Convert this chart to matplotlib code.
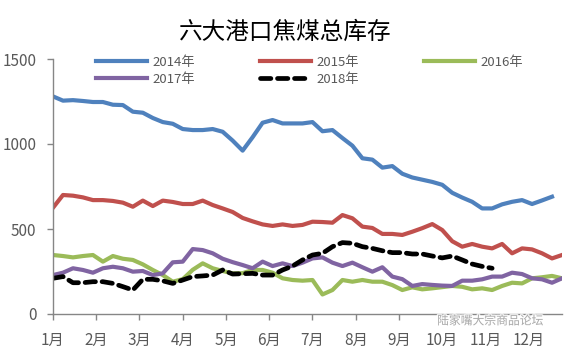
import matplotlib
matplotlib.use("Agg")
import matplotlib.pyplot as plt
import matplotlib.patheffects as pe

plt.rcParams['font.family'] = ['Noto Sans CJK SC', 'DejaVu Sans']

months = ['1月', '2月', '3月', '4月', '5月', '6月', '7月', '8月', '9月', '10月', '11月', '12月']

y2014 = [1280, 1255, 1258, 1253, 1247, 1247, 1231, 1229, 1190, 1184, 1153, 1129, 1119, 1088,
         1082, 1082, 1088, 1072, 1020, 961, 1040, 1125, 1141, 1121, 1121, 1121, 1129, 1075,
         1082, 1035, 990, 916, 908, 861, 870, 825, 803, 790, 777, 760, 713, 685, 660, 621,
         621, 645, 660, 670, 647, 668, 690]
y2015 = [625, 700, 696, 686, 670, 670, 665, 655, 631, 667, 635, 667, 659, 647, 647, 667, 641,
         621, 600, 565, 545, 527, 518, 527, 518, 524, 543, 541, 537, 582, 563, 514, 506, 471,
         471, 465, 484, 505, 529, 494, 428, 396, 412, 396, 386, 412, 357, 386, 380, 357, 327, 347]
y2016 = [347, 341, 333, 341, 347, 308, 341, 325, 318, 292, 259, 229, 190, 205, 260, 298, 269,
         253, 239, 240, 259, 259, 243, 210, 200, 196, 200, 115, 141, 200, 190, 200, 190, 190,
         170, 141, 157, 145, 151, 158, 165, 160, 145, 151, 141, 165, 184, 180, 210, 216, 224, 210]
y2017 = [229, 243, 269, 259, 243, 269, 278, 269, 249, 253, 229, 239, 304, 308, 382, 376, 357,
         325, 305, 288, 269, 308, 282, 298, 282, 302, 327, 333, 302, 282, 302, 275, 249, 275,
         220, 205, 165, 176, 171, 167, 165, 196, 196, 204, 220, 220, 243, 235, 210, 204, 184, 210]
y2018 = [210, 220, 184, 184, 190, 190, 180, 161, 141, 204, 204, 195, 180, 200, 220, 224, 229,
         259, 235, 237, 239, 229, 229, 259, 282, 318, 347, 357, 396, 420, 416, 396, 386, 372,
         361, 361, 353, 353, 341, 330, 341, 318, 294, 280, 269]

series = [
    ('2014年', y2014, '#4F81BD', '-'),
    ('2015年', y2015, '#C0504D', '-'),
    ('2016年', y2016, '#9BBB59', '-'),
    ('2017年', y2017, '#8064A2', '-'),
    ('2018年', y2018, '#000000', '--'),
]

fig = plt.figure(figsize=(5.76, 3.51), dpi=100)
ax = fig.add_axes([53/576, 1-314/351, (562-53)/576, (314-59)/351])

handles = {}
for name, ys, col, ls in series:
    if ls == '--':
        ln, = ax.plot(range(len(ys)), ys, color=col, lw=3.4, ls=(0, (2.2, 1.4)),
                      solid_capstyle='round', dash_capstyle='round', label=name)
    else:
        ln, = ax.plot(range(len(ys)), ys, color=col, lw=3.0, solid_joinstyle='round',
                      label=name)
    handles[name] = ln

ax.set_xlim(0, 51)
ax.set_ylim(0, 1500)
ax.set_yticks([0, 500, 1000, 1500])
ax.set_xticks([i * 52 / 12 for i in range(12)])
ax.set_xticklabels(months)
for s in ['top', 'right']:
    ax.spines[s].set_visible(False)
for s in ['left', 'bottom']:
    ax.spines[s].set_color('#868686')
    ax.spines[s].set_linewidth(1.0)
ax.tick_params(axis='both', colors='#868686', labelcolor='#595959', labelsize=11,
               length=4, width=1.0)
ax.tick_params(axis='y', pad=8)
ax.tick_params(axis='x', pad=9)

order = ['2014年', '2017年', '2015年', '2018年', '2016年']
leg = ax.legend([handles[n] for n in order], order, ncol=3, frameon=False,
                loc='upper left', bbox_to_anchor=(96/576, 1-56/351),
                bbox_transform=fig.transFigure, fontsize=9.5, handlelength=3.9,
                handletextpad=0.35, columnspacing=4.95, labelspacing=0.3,
                borderaxespad=0, borderpad=0)
for t in leg.get_texts():
    t.set_color('#595959')

fig.text(285/576, 1-32/351, '六大港口焦煤总库存', ha='center', va='center', fontsize=17,
         color='#000000')

fig.text(490/576, 1-321/351, '陆家嘴大宗商品论坛', ha='center', va='center', fontsize=8.5,
         color='#9a9a9a', alpha=0.8,
         path_effects=[pe.withStroke(linewidth=2, foreground='white')])

fig.savefig('out.png', dpi=100, facecolor='white')
